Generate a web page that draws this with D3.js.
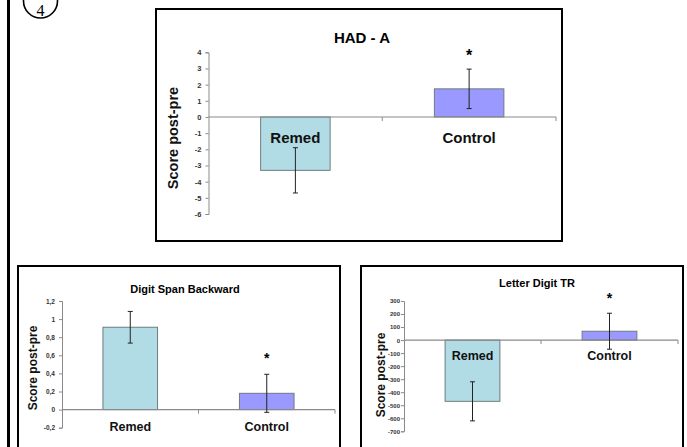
<!DOCTYPE html>
<html>
<head>
<meta charset="utf-8">
<script src="https://cdn.jsdelivr.net/npm/d3@7"></script>
<style>
  html, body { margin: 0; padding: 0; background: #fff; }
  svg { display: block; }
  text { font-family: "Liberation Sans", Arial, sans-serif; }
</style>
</head>
<body>
<svg width="687" height="447"></svg>
<script>
// data
const categories = ["Remed", "Control"];
const significant = [false, true];

const hadTitle = "HAD - A";
const hadMeans = [-3.3, 1.74];
const hadErrors = [1.4, 1.22];
const hadTicks = [-6, -5, -4, -3, -2, -1, 0, 1, 2, 3, 4];

const dsbTitle = "Digit Span Backward";
const dsbMeans = [0.91, 0.18];
const dsbErrors = [0.175, 0.21];
const dsbTicks = [-0.2, 0, 0.2, 0.4, 0.6, 0.8, 1, 1.2];

const ldtTitle = "Letter Digit TR";
const ldtMeans = [-470, 68];
const ldtErrors = [150, 138];
const ldtTicks = [-700, -600, -500, -400, -300, -200, -100, 0, 100, 200, 300];

const yLabel = "Score post-pre";

const barColors = ["#b1dce5", "#9999ff"];

// decimal comma, plain hyphen minus
const locale = d3.formatLocale({decimal: ",", thousands: ".", grouping: [3], currency: ["", ""], minus: "-"});
const fmt = locale.format("~g");

const svg = d3.select("svg");

// outer page rule and circled number
svg.append("line")
    .attr("x1", 8.5).attr("x2", 8.5)
    .attr("y1", 0).attr("y2", 447)
    .attr("stroke", "#000").attr("stroke-width", 3);
svg.append("circle")
    .attr("cx", 40.5).attr("cy", 1)
    .attr("r", 17)
    .attr("fill", "none").attr("stroke", "#000").attr("stroke-width", 1.6);
svg.append("text")
    .attr("x", 40.5).attr("y", 15.5)
    .attr("text-anchor", "middle")
    .style("font-family", "'Liberation Serif', serif")
    .style("font-size", "16px")
    .text("4");

function drawPanel(p) {
    // frame
    svg.append("rect")
        .attr("x", p.box[0]).attr("y", p.box[1])
        .attr("width", p.box[2]).attr("height", p.box[3])
        .attr("fill", "#fff").attr("stroke", "#000").attr("stroke-width", 2);

    const g = svg.append("g");

    const y = d3.scaleLinear()
        .domain(d3.extent(p.ticks))
        .range([p.plot.bottom, p.plot.top]);
    const x = d3.scaleBand()
        .domain(categories)
        .range([p.plot.left, p.plot.right])
        .paddingInner(0.6)
        .paddingOuter(0.3);

    const data = categories.map((c, i) => ({cat: c, mean: p.means[i], err: p.errors[i], star: significant[i], color: barColors[i]}));

    // bars
    g.selectAll(".bar")
        .data(data)
        .enter().append("rect")
        .attr("class", "bar")
        .attr("x", d => x(d.cat))
        .attr("width", x.bandwidth())
        .attr("y", d => y(Math.max(0, d.mean)))
        .attr("height", d => Math.abs(y(d.mean) - y(0)))
        .attr("fill", d => d.color)
        .attr("stroke", "#6f7b80")
        .attr("stroke-width", 1);

    // x axis line with ticks at category boundaries
    const y0 = y(0);
    g.append("line")
        .attr("x1", p.plot.left).attr("x2", p.plot.right)
        .attr("y1", y0).attr("y2", y0)
        .attr("stroke", "#8a8a8a").attr("stroke-width", 1.2);
    const bounds = [p.plot.left, p.plot.left + x.step(), p.plot.right];
    g.selectAll(".xtick")
        .data(bounds.slice(1))
        .enter().append("line")
        .attr("x1", d => d).attr("x2", d => d)
        .attr("y1", y0).attr("y2", y0 + 4)
        .attr("stroke", "#8a8a8a");

    // error bars
    const cap = 2.5;
    const eb = g.selectAll(".err").data(data).enter().append("g").attr("class", "err")
        .attr("stroke", "#222").attr("stroke-width", 1);
    eb.append("line")
        .attr("x1", d => x(d.cat) + x.bandwidth() / 2)
        .attr("x2", d => x(d.cat) + x.bandwidth() / 2)
        .attr("y1", d => y(d.mean + d.err))
        .attr("y2", d => y(d.mean - d.err));
    eb.append("line")
        .attr("x1", d => x(d.cat) + x.bandwidth() / 2 - cap)
        .attr("x2", d => x(d.cat) + x.bandwidth() / 2 + cap)
        .attr("y1", d => y(d.mean + d.err))
        .attr("y2", d => y(d.mean + d.err));
    eb.append("line")
        .attr("x1", d => x(d.cat) + x.bandwidth() / 2 - cap)
        .attr("x2", d => x(d.cat) + x.bandwidth() / 2 + cap)
        .attr("y1", d => y(d.mean - d.err))
        .attr("y2", d => y(d.mean - d.err));

    // significance stars
    g.selectAll(".star")
        .data(data.filter(d => d.star))
        .enter().append("text")
        .attr("class", "star")
        .attr("x", d => x(d.cat) + x.bandwidth() / 2)
        .attr("y", d => y(d.mean + d.err) - p.starGap)
        .attr("text-anchor", "middle")
        .style("font-size", p.starSize + "px")
        .style("font-weight", "bold")
        .text("*");

    // y axis
    const yAxis = g.append("g")
        .attr("transform", "translate(" + p.plot.left + ",0)")
        .call(d3.axisLeft(y).tickValues(p.ticks).tickFormat(fmt).tickSize(3).tickPadding(p.tickPad));
    yAxis.select(".domain").attr("stroke", "#8a8a8a");
    yAxis.selectAll(".tick line").attr("stroke", "#8a8a8a");
    yAxis.selectAll(".tick text")
        .attr("fill", "#333")
        .style("font-size", p.tickSize + "px")
        .style("font-weight", "bold")
        .style("font-family", "'Liberation Sans', Arial, sans-serif");

    // category labels
    g.selectAll(".cat")
        .data(data)
        .enter().append("text")
        .attr("class", "cat")
        .attr("x", d => x(d.cat) + x.bandwidth() / 2)
        .attr("y", y0 + p.catGap)
        .attr("text-anchor", "middle")
        .style("font-size", p.catSize + "px")
        .style("font-weight", "bold")
        .attr("fill", "#111")
        .text(d => d.cat);

    // title
    g.append("text")
        .attr("x", p.titlePos[0]).attr("y", p.titlePos[1])
        .attr("text-anchor", "middle")
        .style("font-size", p.titleSize + "px")
        .style("font-weight", "bold")
        .text(p.title);

    // y label
    g.append("text")
        .attr("transform", "translate(" + p.yLabelPos[0] + "," + p.yLabelPos[1] + ") rotate(-90)")
        .attr("text-anchor", "middle")
        .style("font-size", p.yLabelSize + "px")
        .style("font-weight", "bold")
        .attr("fill", "#111")
        .text(yLabel);
}

drawPanel({
    title: hadTitle, means: hadMeans, errors: hadErrors, ticks: hadTicks,
    box: [156, 9, 406, 232],
    plot: {left: 208.5, right: 556, top: 52.3, bottom: 214},
    titlePos: [362, 43], titleSize: 15,
    yLabelPos: [178, 138], yLabelSize: 14.5,
    catGap: 26, catSize: 15,
    tickSize: 7.5, tickPad: 4, starSize: 16, starGap: 8
});

drawPanel({
    title: dsbTitle, means: dsbMeans, errors: dsbErrors, ticks: dsbTicks,
    box: [18, 266, 322, 200],
    plot: {left: 62, right: 335, top: 301, bottom: 427.7},
    titlePos: [185, 293], titleSize: 11,
    yLabelPos: [37, 368], yLabelSize: 12,
    catGap: 21, catSize: 12.5,
    tickSize: 6.5, tickPad: 4, starSize: 14, starGap: 11.5
});

drawPanel({
    title: ldtTitle, means: ldtMeans, errors: ldtErrors, ticks: ldtTicks,
    box: [361, 266, 322, 200],
    plot: {left: 404, right: 678, top: 301, bottom: 431.3},
    titlePos: [537, 287], titleSize: 11,
    yLabelPos: [385, 375], yLabelSize: 12,
    catGap: 20, catSize: 12.5,
    tickSize: 6, tickPad: 1, starSize: 14, starGap: 10
});
</script>
</body>
</html>
